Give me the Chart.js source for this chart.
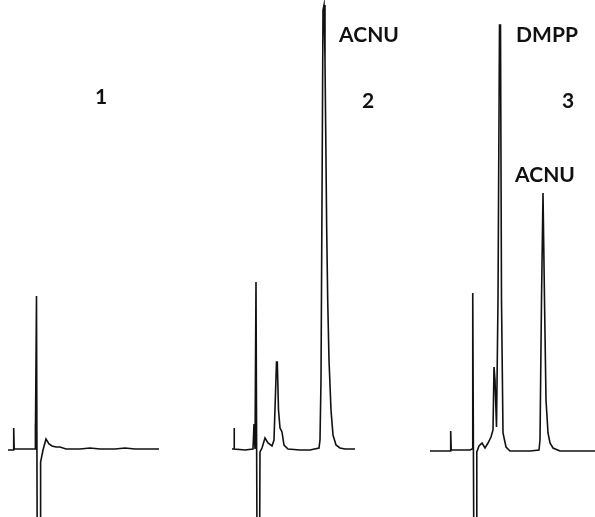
<!DOCTYPE html>
<html>
<head>
<meta charset="utf-8">
<script src="https://cdn.jsdelivr.net/npm/chart.js@4/dist/chart.umd.min.js"></script>
<style>
  html, body { margin: 0; padding: 0; background: #fff; }
  #wrap { width: 595px; height: 517px; }
</style>
</head>
<body>
<div id="wrap"><canvas id="chart"></canvas></div>
<script>
// retention position (arbitrary units) and detector signal, one pair per chromatogram
const time1 = [8, 13.7, 13.7, 14.2, 20, 28, 33, 35, 35.2, 35.6, 36.5, 37.2, 40.2, 40.6, 43, 46, 49, 52, 56, 60, 66, 80, 90, 100, 115, 125, 135, 145, 159];
const signal1 = [-1, -1, 21, 0, 0, 0, 0, 0, 25, 10, 153, -95, -95, -13, -1, 10, 5, 3, 2, 2, 0, 0, 1, 0, 0, 1, 0, 0, 0];

const time2 = [232, 234, 234, 234.5, 245, 253, 254, 255, 256, 257, 259.6, 260, 262, 265, 268, 272, 274, 276.5, 277.3, 278.5, 280, 282, 284, 288, 300, 310, 319, 320, 321, 322, 323, 324, 325, 326.7, 327.7, 329, 331, 333, 336, 340, 345, 355];
const signal2 = [0, 0, 21, 0, -1, 0, 25, 0, 167, -95, -95, -3, 1, 11, 6, 3, 9, 87, 87, 39, 21, 17, 4, 0, -1, -1, 1, 9, 69, 249, 439, 444, 389, 219, 149, 89, 39, 14, 4, 1, 0, 0];

const time3 = [430, 450, 450.7, 450.7, 451.2, 460, 470, 472, 472.5, 473, 473.8, 476.4, 476.8, 479, 482, 485, 488, 491, 493, 494, 495, 496.5, 498, 499.5, 500.5, 501.5, 503, 506, 510, 520, 530, 539, 540, 541.5, 543, 544.5, 546, 548, 550, 553, 560, 595];
const signal3 = [-2, -2, -2, 18, -1, -1, -1, 0, 29, 156, -95, -95, -3, 3, 6, 1, 6, 12, 19, 82, 69, 22, 149, 424, 424, 149, 16, 2, -2, -2, -2, -1, 9, 149, 256, 149, 49, 16, 6, 1, -2, -2];

// peak / run labels
const labelText = ['1', 'ACNU', '2', 'DMPP', '3', 'ACNU'];
const labelTime = [101, 369, 368, 547, 568, 545];
const labelSignal = [352, 414, 348, 414, 348, 274];

const toPoints = (xs, ys) => xs.map((x, i) => ({ x: x, y: ys[i] }));

const traceStyle = {
  borderColor: '#111',
  borderWidth: 1.6,
  pointRadius: 0,
  showLine: true,
  fill: false,
  tension: 0,
};

const peakLabels = {
  id: 'peakLabels',
  afterDatasetsDraw(chart) {
    const { ctx, scales } = chart;
    ctx.save();
    ctx.fillStyle = '#111';
    ctx.font = 'bold 21px Lato, "DejaVu Sans", sans-serif';
    ctx.textAlign = 'center';
    ctx.textBaseline = 'middle';
    labelText.forEach((t, i) => {
      ctx.fillText(t, scales.x.getPixelForValue(labelTime[i]), scales.y.getPixelForValue(labelSignal[i]));
    });
    ctx.restore();
  },
};

new Chart(document.getElementById('chart'), {
  type: 'scatter',
  data: {
    datasets: [
      { label: 'Run 1', data: toPoints(time1, signal1), ...traceStyle },
      { label: 'Run 2', data: toPoints(time2, signal2), ...traceStyle },
      { label: 'Run 3', data: toPoints(time3, signal3), ...traceStyle },
    ],
  },
  options: {
    responsive: true,
    maintainAspectRatio: false,
    animation: false,
    layout: { padding: 0 },
    plugins: {
      legend: { display: false },
      tooltip: { enabled: false },
    },
    scales: {
      x: { type: 'linear', min: 0, max: 595, display: false },
      y: { type: 'linear', min: -68, max: 449, display: false },
    },
  },
  plugins: [peakLabels],
});
</script>
</body>
</html>
